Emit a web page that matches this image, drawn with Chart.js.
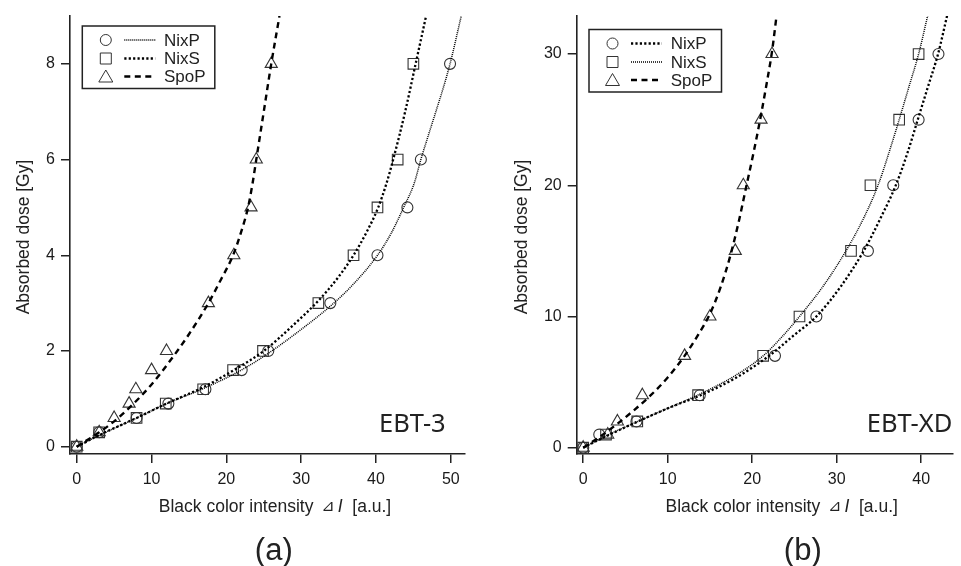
<!DOCTYPE html>
<html lang="en">
<head>
<meta charset="UTF-8">
<title>Dose response of EBT-3 and EBT-XD films</title>
<script src="https://cdn.jsdelivr.net/npm/chart.js"></script>
<style>
  body { margin: 0; background: #fff; }
  .panel { position: absolute; top: 0; }
</style>
</head>
<body>
<div class="panel" style="left:0"><canvas id="chartA" width="480" height="566"></canvas></div>
<div class="panel" style="left:480px"><canvas id="chartB" width="481" height="566"></canvas></div>

<script>
// ---- (a) EBT-3 : measured points, dose [Gy] vs black color intensity
const ebt3Dose = [0, 0.3, 0.6, 0.9, 1.2, 1.6, 2, 3, 4, 5, 6, 8];
const ebt3NixP = [0, 3, 8, 12.25, 17.2, 22.05, 25.6, 33.9, 40.2, 44.2, 46.0, 49.9];
const ebt3NixS = [0, 3, 8, 11.9, 16.9, 20.9, 24.9, 32.3, 37.0, 40.2, 42.9, 45.0];
const ebt3SpoP = [0, 3, 5, 7, 7.9, 10, 12, 17.6, 21.0, 23.3, 24.0, 26.0];

// fitted curves, [intensity, dose]
const ebt3FitNixP = [[0,0],[3,0.24],[8,0.6],[12,0.9],[17,1.22],[22,1.6],[25.6,1.95],[30,2.45],[34,2.95],[37,3.4],[40.2,4.0],[42,4.45],[43.7,5.0],[45.1,5.5],[46.0,6.0],[48.0,7.0],[49.0,7.5],[49.9,8.0],[51.4,9.0]];
const ebt3FitNixS = [[0,0],[3,0.24],[8,0.6],[12,0.9],[17,1.25],[21,1.6],[25,2.0],[29,2.55],[32.3,3.05],[35,3.55],[37,4.0],[38.8,4.5],[40.3,5.0],[41.4,5.5],[42.3,6.0],[43.9,7.0],[45.3,8.0],[46.7,9.0]];
const ebt3FitSpoP = [[0,0],[3,0.3],[5,0.53],[7.4,0.87],[10,1.3],[12.5,1.8],[15,2.35],[17.6,3.0],[19.3,3.5],[20.9,4.0],[22.0,4.5],[22.9,5.0],[23.5,5.5],[24.0,6.0],[25.0,7.0],[26.0,8.0],[27.1,9.0]];

// ---- (b) EBT-XD
const xdDose = [0, 1, 2, 4, 7, 10, 15, 20, 25, 30];
const xdNixP = [0, 1.9, 6.3, 13.8, 22.7, 27.6, 33.7, 36.7, 39.7, 42.05];
const xdNixS = [0, 2.7, 6.4, 13.6, 21.3, 25.6, 31.7, 34.0, 37.4, 39.7];
const xdSpoP = [0, 2.9, 4.05, 7.0, 12.0, 15.0, 18.0, 18.95, 21.05, 22.35];

const xdFitNixP = [[0,0],[2,0.65],[6.3,1.95],[10,3.0],[13.9,4.0],[18,5.3],[22.0,7.0],[25,8.6],[27.6,10],[30.5,12.3],[33.2,15],[35.2,17.5],[37.0,20],[38.4,22.5],[39.6,25],[40.85,27.6],[42.0,30],[43.1,33]];
const xdFitNixS = [[0,0],[2.7,0.9],[6.3,1.95],[10,3.0],[13.7,4.05],[18,5.5],[21.3,7.0],[23.6,8.5],[25.6,10],[28.5,12.4],[31.1,15],[33.2,17.5],[34.9,20],[36.2,22.5],[37.4,25],[38.6,27.6],[39.7,30],[40.8,33]];
const xdFitSpoP = [[0,0],[2,0.85],[4,1.8],[6,2.85],[8,4.0],[10,5.35],[12,7.0],[13.6,8.6],[15,10.2],[16.3,12.3],[17.4,14.6],[18.4,17.2],[19.3,19.9],[20.2,22.6],[21.0,25.2],[21.7,27.7],[22.35,30.2],[22.9,33]];

// axis ticks
const ebt3XTicks = [0, 10, 20, 30, 40, 50];
const ebt3YTicks = [0, 2, 4, 6, 8];
const xdXTicks = [0, 10, 20, 30, 40];
const xdYTicks = [0, 10, 20, 30];

const seriesNames = ['NixP', 'NixS', 'SpoP'];

// line styles
const FINE = { width: 1.5, dash: [1, 1] };
const DOTS = { width: 2.3, dash: [2.2, 2.2] };
const DASH = { width: 2.4, dash: [6, 4.5] };
const MARKERS = [
    { style: 'circle', radius: 5.5 },
    { style: 'rect', radius: 7.5 },
    { style: 'triangle', radius: 7 }
];

function points(xs, ys) {
    return xs.map((x, i) => ({ x: x, y: ys[i] }));
}
function curve(pairs) {
    return pairs.map(p => ({ x: p[0], y: p[1] }));
}

function markerSet(label, data, m) {
    return {
        label: label, data: data, showLine: false,
        pointStyle: m.style, pointRadius: m.radius, pointHoverRadius: m.radius,
        pointBorderWidth: 1.1, borderColor: '#333', backgroundColor: 'rgba(0,0,0,0)'
    };
}
function fitSet(label, data, st) {
    return {
        label: label + ' fit', data: data, showLine: true, pointRadius: 0,
        borderColor: '#000', borderWidth: st.width, borderDash: st.dash,
        borderCapStyle: 'butt', cubicInterpolationMode: 'monotone', fill: false
    };
}

function axis(min, max, ticks, isX, size) {
    return {
        type: 'linear', min: min, max: max,
        afterBuildTicks: s => { s.ticks = ticks.map(v => ({ value: v })); },
        afterFit: s => { if (isX) s.height = size; else s.width = size; },
        grid: { drawOnChartArea: false, drawTicks: true, tickLength: 9, color: '#222', lineWidth: 1.5 },
        border: { display: true, color: '#222', width: 1.6 },
        ticks: {
            font: { family: 'Liberation Sans', size: 16 }, color: '#1a1a1a',
            padding: isX ? 7 : 6, maxRotation: 0, autoSkip: false
        },
        title: { display: false }
    };
}

const FONT = '"Liberation Sans", "DejaVu Sans", "Noto Sans CJK JP", sans-serif';

// text, legend and labels drawn on top
const extras = {
    id: 'extras',
    afterDraw(chart, args, o) {
        const ctx = chart.ctx;
        const a = chart.chartArea;
        ctx.save();
        ctx.fillStyle = '#222';
        ctx.strokeStyle = '#222';

        // y title
        ctx.save();
        ctx.translate(o.yTitleX, (a.top + a.bottom) / 2 + 2);
        ctx.rotate(-Math.PI / 2);
        ctx.font = '17.5px ' + FONT;
        ctx.textAlign = 'center';
        ctx.textBaseline = 'middle';
        ctx.fillText('Absorbed dose [Gy]', 0, 0);
        ctx.restore();

        // x title with italic I
        const parts = [
            { t: 'Black color intensity ', f: '17.5px ' + FONT, gap: 3 },
            { t: '\u22BF', f: '16px "DejaVu Sans", "Noto Sans CJK JP", sans-serif', gap: 3 },
            { t: 'I', f: 'italic 17.5px ' + FONT, gap: 0 },
            { t: '  [a.u.]', f: '17.5px ' + FONT, gap: 0 }
        ];
        let total = 0;
        parts.forEach(p => { ctx.font = p.f; p.w = ctx.measureText(p.t).width; total += p.w + p.gap; });
        let x = a.left + o.xTitleCenter - total / 2;
        ctx.textAlign = 'left';
        ctx.textBaseline = 'middle';
        parts.forEach(p => { ctx.font = p.f; ctx.fillText(p.t, x, 507); x += p.w + p.gap; });

        // legend
        const bx = a.left + 12.3, by = o.legendTop, bw = 132.5, bh = 62.5;
        ctx.lineWidth = 1.5;
        ctx.strokeRect(bx, by, bw, bh);
        const rows = [14, 32.5, 50.5];
        ctx.font = '17px ' + FONT;
        o.styles.forEach((st, i) => {
            const ry = by + rows[i];
            const sx = bx + 23.5;
            ctx.lineWidth = 1;
            ctx.setLineDash([]);
            ctx.strokeStyle = '#333';
            ctx.beginPath();
            if (i === 0) ctx.arc(sx, ry, 5.5, 0, Math.PI * 2);
            if (i === 1) ctx.rect(sx - 5.5, ry - 5.5, 11, 11);
            if (i === 2) { ctx.moveTo(sx, ry - 6.5); ctx.lineTo(sx + 7, ry + 5.5); ctx.lineTo(sx - 7, ry + 5.5); ctx.closePath(); }
            ctx.stroke();
            ctx.strokeStyle = '#000';
            ctx.lineWidth = st.width;
            ctx.setLineDash(st.dash);
            ctx.beginPath();
            ctx.moveTo(bx + 42, ry);
            ctx.lineTo(bx + 73, ry);
            ctx.stroke();
            ctx.setLineDash([]);
            ctx.fillText(seriesNames[i], bx + 81.7, ry + 1);
        });

        // film label
        ctx.font = '25.5px "Noto Sans", sans-serif';
        ctx.textAlign = 'left';
        ctx.fillText(o.film, o.filmX, 425);

        // panel label
        ctx.font = '31px ' + FONT;
        ctx.textAlign = 'center';
        ctx.fillText(o.panel, o.panelX, 551);
        ctx.restore();
    }
};

function makeChart(id, d) {
    const datasets = [
        fitSet('NixP', curve(d.fits[0]), d.styles[0]),
        fitSet('NixS', curve(d.fits[1]), d.styles[1]),
        fitSet('SpoP', curve(d.fits[2]), d.styles[2]),
        markerSet('NixP', points(d.marks[0], d.dose), MARKERS[0]),
        markerSet('NixS', points(d.marks[1], d.dose), MARKERS[1]),
        markerSet('SpoP', points(d.marks[2], d.dose), MARKERS[2])
    ];
    new Chart(document.getElementById(id), {
        type: 'scatter',
        data: { datasets: datasets },
        plugins: [extras],
        options: {
            responsive: false, animation: false, devicePixelRatio: 1,
            layout: { padding: { left: 0, top: 16, right: d.padRight, bottom: 72 } },
            scales: {
                x: axis(d.xMin, d.xMax, d.xTicks, true, 40),
                y: axis(d.yMin, d.yMax, d.yTicks, false, d.yWidth)
            },
            plugins: {
                legend: { display: false },
                tooltip: { enabled: false },
                extras: {
                    styles: d.styles, yTitleX: d.yTitleX, xTitleCenter: 205,
                    legendTop: d.legendTop, film: d.film, filmX: d.filmX,
                    panel: d.panel, panelX: d.panelX
                }
            }
        }
    });
}

makeChart('chartA', {
    dose: ebt3Dose, marks: [ebt3NixP, ebt3NixS, ebt3SpoP],
    fits: [ebt3FitNixP, ebt3FitNixS, ebt3FitSpoP],
    styles: [FINE, DOTS, DASH],
    xMin: -0.9, xMax: 51.9, yMin: -0.153, yMax: 9.0,
    xTicks: ebt3XTicks, yTicks: ebt3YTicks,
    yWidth: 70, padRight: 15, yTitleX: 24, legendTop: 26,
    film: 'EBT-3', filmX: 379, panel: '(a)', panelX: 273.8
});

makeChart('chartB', {
    dose: xdDose, marks: [xdNixP, xdNixS, xdSpoP],
    fits: [xdFitNixP, xdFitNixS, xdFitSpoP],
    styles: [DOTS, FINE, DASH],
    xMin: -0.77, xMax: 43.7, yMin: -0.48, yMax: 32.9,
    xTicks: xdXTicks, yTicks: xdYTicks,
    yWidth: 96.7, padRight: 1, yTitleX: 41.7, legendTop: 29.5,
    film: 'EBT-XD', filmX: 386.7, panel: '(b)', panelX: 322.8
});
</script>
</body>
</html>
